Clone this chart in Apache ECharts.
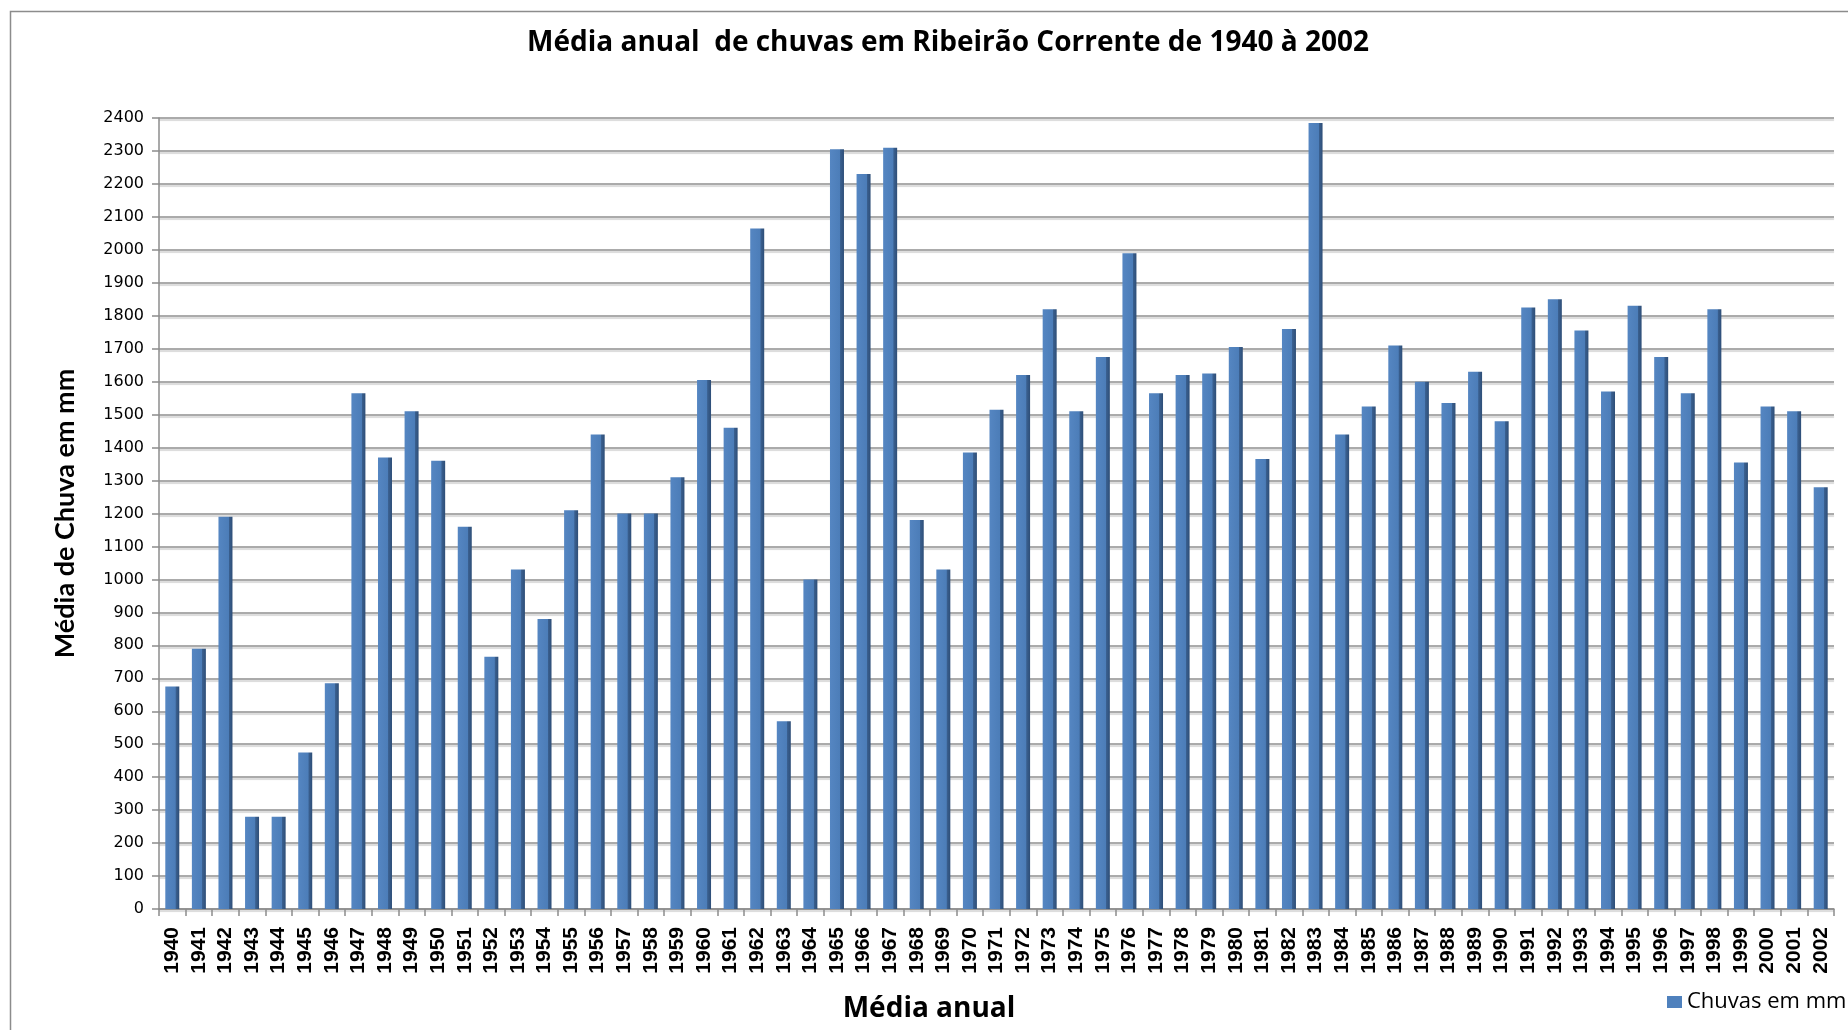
<!DOCTYPE html>
<html>
<head>
<meta charset="utf-8">
<script src="https://cdn.jsdelivr.net/npm/echarts@6/dist/echarts.min.js"></script>
<style>
html,body{margin:0;padding:0;background:#fff;}
#chart{width:1848px;height:1030px;}
</style>
</head>
<body>
<div id="chart"></div>
<script>
const chartTitle = 'Média anual  de chuvas em Ribeirão Corrente de 1940 à 2002';
const xAxisTitle = 'Média anual';
const yAxisTitle = 'Média de Chuva em mm';
const seriesName = 'Chuvas em mm';

const years = ['1940','1941','1942','1943','1944','1945','1946','1947','1948','1949',
  '1950','1951','1952','1953','1954','1955','1956','1957','1958','1959',
  '1960','1961','1962','1963','1964','1965','1966','1967','1968','1969',
  '1970','1971','1972','1973','1974','1975','1976','1977','1978','1979',
  '1980','1981','1982','1983','1984','1985','1986','1987','1988','1989',
  '1990','1991','1992','1993','1994','1995','1996','1997','1998','1999',
  '2000','2001','2002'];

const rainfall = [675, 790, 1190, 280, 280, 475, 685, 1565, 1370, 1510,
  1360, 1160, 765, 1030, 880, 1210, 1440, 1200, 1200, 1310,
  1605, 1460, 2065, 570, 1000, 2305, 2230, 2310, 1180, 1030,
  1385, 1515, 1620, 1820, 1510, 1675, 1990, 1565, 1620, 1625,
  1705, 1365, 1760, 2385, 1440, 1525, 1710, 1600, 1535, 1630,
  1480, 1825, 1850, 1755, 1570, 1830, 1675, 1565, 1820, 1355,
  1525, 1510, 1280];

const yMin = 0;
const yMax = 2400;
const yStep = 100;

const chart = echarts.init(document.getElementById('chart'));

const barFill = new echarts.graphic.LinearGradient(0, 0, 1, 0, [
  { offset: 0, color: '#5586C2' },
  { offset: 0.72, color: '#4C7DB8' },
  { offset: 0.75, color: '#3A6090' },
  { offset: 1, color: '#2E4E77' }
]);

chart.setOption({
  animation: false,
  backgroundColor: '#ffffff',
  graphic: [{
    type: 'rect',
    shape: { x: 10.5, y: 11.5, width: 1900, height: 1100 },
    style: { fill: 'none', stroke: '#8c8c8c', lineWidth: 1.5 },
    silent: true
  }],
  title: [{
    text: chartTitle,
    left: 943,
    textAlign: 'center',
    top: 24,
    textStyle: { fontFamily: 'Open Sans', fontWeight: 'bold', fontSize: 28, color: '#000' }
  }, {
    text: xAxisTitle,
    left: 924,
    textAlign: 'center',
    top: 990,
    textStyle: { fontFamily: 'Open Sans', fontWeight: 'bold', fontSize: 28, color: '#000' }
  }],
  legend: {
    left: 1662,
    top: 986,
    itemWidth: 15,
    itemHeight: 12,
    itemGap: 6,
    icon: 'rect',
    textStyle: { fontFamily: 'Open Sans', fontSize: 22, color: '#000' },
    data: [{ name: seriesName, itemStyle: { color: '#4F81BD' } }]
  },
  grid: { left: 159, right: 14, top: 118, bottom: 121, containLabel: false },
  xAxis: {
    type: 'category',
    data: years,
    boundaryGap: true,
    axisLine: { show: true, lineStyle: { color: '#8c8c8c', width: 1.5 } },
    axisTick: { show: true, length: 7, alignWithLabel: false, lineStyle: { color: '#8c8c8c', width: 1.5 } },
    axisLabel: {
      interval: 0,
      rotate: 90,
      margin: 18,
      fontFamily: "'Liberation Sans Narrow', 'Liberation Sans', Arial",
      fontWeight: 'bold',
      fontSize: 21,
      color: '#000'
    }
  },
  yAxis: {
    type: 'value',
    min: yMin,
    max: yMax,
    interval: yStep,
    name: yAxisTitle,
    nameLocation: 'middle',
    nameGap: 80,
    nameRotate: 90,
    nameTextStyle: { fontFamily: 'Lato', fontWeight: 'bold', fontSize: 27, color: '#000' },
    axisLine: { show: true, lineStyle: { color: '#8c8c8c', width: 1.5 } },
    axisTick: { show: true, length: 7, lineStyle: { color: '#8c8c8c', width: 1.5 } },
    axisLabel: {
      margin: 15,
      fontFamily: 'DejaVu Sans',
      fontSize: 16,
      color: '#000',
      formatter: function (v) { return String(v); }
    },
    splitLine: {
      show: true,
      lineStyle: { color: '#8f8f8f', width: 1.5, shadowColor: 'rgba(0,0,0,0.2)', shadowOffsetY: 2, shadowBlur: 1 }
    }
  },
  series: [{
    name: seriesName,
    type: 'bar',
    data: rainfall,
    barWidth: 14,
    itemStyle: { color: barFill },
    emphasis: { disabled: true }
  }]
});
</script>
</body>
</html>
